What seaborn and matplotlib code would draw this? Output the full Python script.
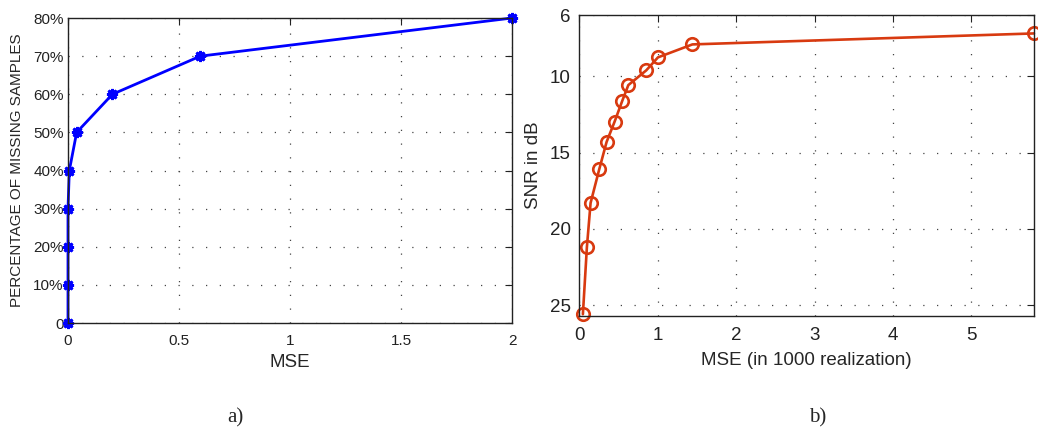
import matplotlib
matplotlib.use('Agg')
import matplotlib.pyplot as plt
import numpy as np
import pandas as pd
import seaborn as sns
from matplotlib.ticker import FuncFormatter

# panel a) : MSE vs percentage of missing samples
missing_pct = [0, 10, 20, 30, 40, 50, 60, 70, 80]
mse_a = [0.0, 0.0, 0.0, 0.0, 0.006, 0.039, 0.2, 0.596, 2.0]

# panel b) : MSE (1000 realizations) vs SNR
mse_b = [0.047, 0.098, 0.145, 0.255, 0.349, 0.451, 0.549, 0.626, 0.855, 1.004, 1.443, 5.796]
snr_db = [25.6, 21.2, 18.3, 16.1, 14.3, 12.97, 11.6, 10.57, 9.6, 8.75, 7.9, 7.18]

BLUE = '#0000FF'
RED = '#D83A10'

sns.set_style('white')
plt.rcParams['font.family'] = ['Liberation Sans', 'DejaVu Sans']
plt.rcParams['axes.linewidth'] = 1.0
plt.rcParams['xtick.direction'] = 'in'
plt.rcParams['ytick.direction'] = 'in'

fig = plt.figure(figsize=(10.38, 4.29), dpi=100)
ax1 = fig.add_axes([0.0655, 0.247, 0.4278, 0.711])
ax2 = fig.add_axes([0.558, 0.264, 0.4384, 0.700])

df_a = pd.DataFrame({'mse': mse_a, 'pct': missing_pct})
df_b = pd.DataFrame({'mse': mse_b, 'snr': snr_db})

# matlab-like asterisk marker
sns.lineplot(data=df_a, x='mse', y='pct', ax=ax1, estimator=None, sort=False,
             color=BLUE, linewidth=2.0, marker=(8, 2, 0), markersize=8,
             markeredgecolor=BLUE, markerfacecolor=BLUE, markeredgewidth=2.0)
sns.lineplot(data=df_b, x='mse', y='snr', ax=ax2, estimator=None, sort=False,
             color=RED, linewidth=1.9, marker='o', markersize=9,
             markerfacecolor='none', markeredgecolor=RED, markeredgewidth=1.9)

grid_kw = dict(color='#444444', linestyle=(0, (1, 10)), linewidth=0.9)

# left panel
ax1.set_xlim(0, 2)
ax1.set_ylim(0, 80)
ax1.set_xticks([0, 0.5, 1, 1.5, 2])
ax1.set_xticklabels(['0', '0.5', '1', '1.5', '2'])
ax1.set_yticks(missing_pct)
ax1.yaxis.set_major_formatter(FuncFormatter(lambda v, p: '0' if v == 0 else '%d%%' % v))
ax1.tick_params(labelsize=11, length=5, width=0.8, top=True, right=True, colors='#222222')
ax1.tick_params(axis='x', pad=8)
ax1.tick_params(axis='y', pad=3)
ax1.grid(True, **grid_kw)
ax1.set_xlabel('MSE', fontsize=13.5, labelpad=4)
ax1.set_ylabel('PERCENTAGE OF MISSING SAMPLES', fontsize=11, labelpad=7)

# right panel
ax2.set_xlim(0, 5.8)
ax2.set_ylim(25.7, 6)
ax2.set_xticks([0, 1, 2, 3, 4, 5])
ax2.set_yticks([6, 10, 15, 20, 25])
ax2.tick_params(labelsize=13.5, length=5, width=0.8, top=True, right=True, colors='#222222')
ax2.tick_params(axis='x', pad=8)
ax2.tick_params(axis='y', pad=6)
ax2.grid(True, **grid_kw)
ax2.set_xlabel('MSE (in 1000 realization)', fontsize=13.5, labelpad=6)
ax2.set_ylabel('SNR in dB', fontsize=13.5, labelpad=6)

for ax in (ax1, ax2):
    for s in ax.spines.values():
        s.set_visible(True)
        s.set_color('#222222')
    for line in ax.get_lines():
        line.set_clip_on(False)

fig.text(235 / 1038, 1 - 418 / 429, 'a)', fontsize=15, family='Liberation Serif', ha='center', va='center')
fig.text(818 / 1038, 1 - 418 / 429, 'b)', fontsize=15, family='Liberation Serif', ha='center', va='center')

fig.savefig('out.png', dpi=100)
